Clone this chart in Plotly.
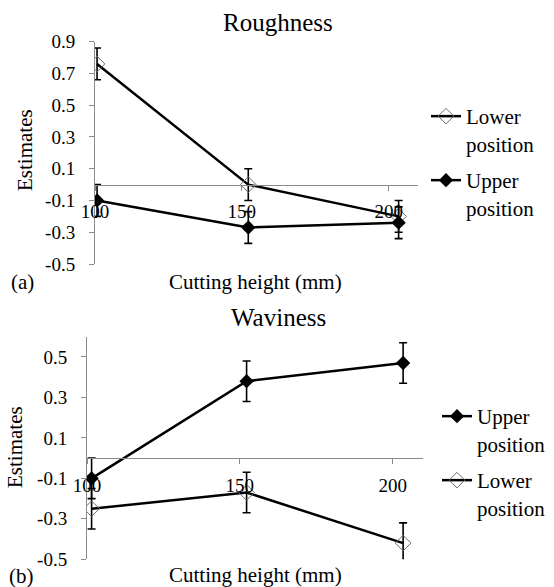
import plotly.graph_objects as go

# ---- data ----
cutting_height_ticks = [100, 150, 200]
tick_labels = ["100", "150", "200"]

rough_x = [100.7, 152.2, 203.4]
rough_lower = [0.76, 0.00, -0.20]
rough_lower_err = [0.10, 0.10, 0.10]
rough_upper = [-0.10, -0.27, -0.24]
rough_upper_err = [0.10, 0.10, 0.10]

wav_x = [101.5, 152.2, 203.4]
wav_upper = [-0.10, 0.38, 0.47]
wav_upper_err = [0.10, 0.10, 0.10]
wav_lower = [-0.25, -0.17, -0.42]
wav_lower_err = [0.10, 0.10, 0.10]

rough_yticks = [-0.5, -0.3, -0.1, 0.1, 0.3, 0.5, 0.7, 0.9]
wav_yticks = [-0.5, -0.3, -0.1, 0.1, 0.3, 0.5]

W, H = 554, 587
FONT = "Liberation Serif"
AX = "#8a8a8a"

def px(x):
    return x / W

def py(y):
    return 1 - y / H

fig = go.Figure()

def add_series(x, y, err, name, filled, xa, ya, legend):
    fig.add_trace(go.Scatter(
        x=x, y=y, name=name, mode="lines+markers",
        xaxis=xa, yaxis=ya, legend=legend,
        line=dict(color="black", width=2.5),
        marker=dict(symbol="diamond" if filled else "diamond-open",
                    size=11 if filled else 12,
                    color="black" if filled else "#6e6e6e",
                    line=dict(width=1 if not filled else 0, color="#6e6e6e")),
        error_y=dict(type="data", array=err, visible=True,
                     color="black", thickness=1.6, width=4),
    ))

add_series(rough_x, rough_lower, rough_lower_err, "Lower<br>position", False, "x", "y", "legend")
add_series(rough_x, rough_upper, rough_upper_err, "Upper<br>position", True, "x", "y", "legend2")
add_series(wav_x, wav_upper, wav_upper_err, "Upper<br>position", True, "x2", "y2", "legend3")
add_series(wav_x, wav_lower, wav_lower_err, "Lower<br>position", False, "x2", "y2", "legend4")

r1 = [-0.5, 0.9]
r2 = [-0.5, 0.6]
d1y = [py(264), py(41.7)]
d2y = [py(559.3), py(336.7)]

def zero_pos(rng, dom):
    return dom[0] + (0 - rng[0]) / (rng[1] - rng[0]) * (dom[1] - dom[0])

tickfont = dict(family=FONT, size=19, color="black")

xcommon = dict(range=[100, 210], tickvals=cutting_height_ticks, ticktext=tick_labels,
               showline=True, linecolor=AX, linewidth=1, ticks="outside",
               ticklen=5, tickcolor=AX, showgrid=False, zeroline=False,
               tickfont=tickfont, anchor="free", ticklabelstandoff=5)
ycommon = dict(showline=True, linecolor=AX, linewidth=1, ticks="outside",
               ticklen=5, tickcolor=AX, showgrid=False, zeroline=False,
               tickfont=tickfont, ticklabelstandoff=10)

def leg(x, ytop):
    return dict(x=px(x), y=py(ytop), xanchor="left", yanchor="top",
                font=dict(family=FONT, size=21, color="black"),
                bgcolor="rgba(0,0,0,0)", valign="top", tracegroupgap=0)

fig.update_layout(
    width=W, height=H,
    margin=dict(l=0, r=0, t=0, b=0, autoexpand=False),
    paper_bgcolor="white", plot_bgcolor="white",
    font=dict(family=FONT, color="black"),
    xaxis=dict(domain=[px(95), px(418)], position=zero_pos(r1, d1y), **xcommon),
    yaxis=dict(domain=d1y, range=r1, tickvals=rough_yticks,
               ticktext=[f"{v:.1f}" for v in rough_yticks], anchor="x", **ycommon),
    xaxis2=dict(domain=[px(87), px(423.3)], position=zero_pos(r2, d2y), **xcommon),
    yaxis2=dict(domain=d2y, range=r2, tickvals=wav_yticks,
                ticktext=[f"{v:.1f}" for v in wav_yticks], anchor="x2", **ycommon),
    legend=leg(426, 96),
    legend2=leg(426, 160),
    legend3=leg(437, 396),
    legend4=leg(437, 460),
    showlegend=True,
)

def ann(text, x, y, size, angle=0):
    fig.add_annotation(text=text, x=px(x), y=py(y), xref="paper", yref="paper",
                       showarrow=False, textangle=angle,
                       font=dict(family=FONT, size=size, color="black"),
                       xanchor="center", yanchor="middle")

ann("Roughness", 278, 22, 25)
ann("Waviness", 278, 317, 25)
ann("Cutting height (mm)", 255, 282, 21)
ann("Cutting height (mm)", 255, 575, 21)
ann("Estimates", 25, 150, 21, -90)
ann("Estimates", 15, 447, 21, -90)
ann("(a)", 22, 282, 21)
ann("(b)", 21, 576, 21)

fig.write_html("out.html", config={"displayModeBar": False},
               post_script="document.body.style.margin='0';")
